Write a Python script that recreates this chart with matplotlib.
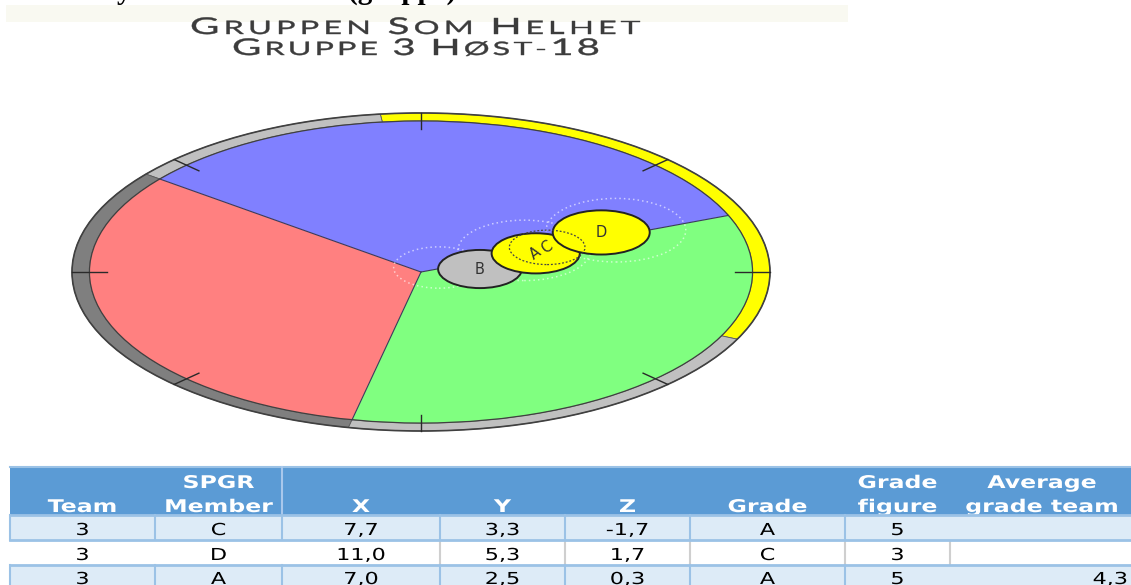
import numpy as np
import matplotlib
matplotlib.use("Agg")
from matplotlib import pyplot as plt
from matplotlib import patches
from matplotlib.font_manager import FontProperties
from matplotlib.textpath import TextPath, text_to_path
from matplotlib.transforms import Affine2D

# --- data -------------------------------------------------------------------
header_cut = "Analyse av hele teamet (gruppe)"
title_lines = ["GRUPPEN SOM HELHET", "GRUPPE 3 HØST-18"]

# field sectors (degrees) and their colours
sector_start = [22, 142, 258]
sector_end = [142, 258, 382]
sector_colors = ["#8080ff", "#ff8080", "#80ff80"]

# outer ring segments
ring_start = [-25, 96.7, 142, 258]
ring_end = [96.7, 142, 258, 335]
ring_colors = ["#ffff00", "#c0c0c0", "#7f7f7f", "#c0c0c0"]

# members in the table
team = [3, 3, 3]
members = ["C", "D", "A"]
x_vals = [7.7, 11.0, 7.0]
y_vals = [3.3, 5.3, 2.5]
z_vals = [-1.7, 1.7, 0.3]
grades = ["A", "C", "A"]
grade_fig = [5, 3, 5]
avg_grade = 4.3

# member B only shown in the diagram
extra_member = "B"
extra_x, extra_y, extra_z = 3.6, 0.4, -0.4

# faint dotted "shadow" circles (X, Y, radius)
shadow_x = [1.1, 6.3, 11.9]
shadow_y = [0.6, 2.9, 5.6]
shadow_r = [0.13, 0.19, 0.2]

table_header_1 = ["", "SPGR", "", "", "", "", "Grade", "Average"]
table_header_2 = ["Team", "Member", "X", "Y", "Z", "Grade", "figure", "grade team"]

# --- helpers ----------------------------------------------------------------
FIELD = 21.3          # value that maps to the rim of the field
CX, CY, RX, RY = 421, 272, 349, 159


def put_text(ax, x, y, s, size, sx=1.0, ha="center", color="black",
             weight="normal", family="DejaVu Sans"):
    prop = FontProperties(family=family, weight=weight, size=size)
    w, _, _ = text_to_path.get_text_width_height_descent(s, prop, ismath=False)
    w *= sx
    x0 = {"center": x - w / 2, "left": x, "right": x - w}[ha]
    path = TextPath((0, 0), s, size=size, prop=prop)
    tr = Affine2D().scale(sx, -1).translate(x0, y) + ax.transData
    ax.add_patch(patches.PathPatch(path, transform=tr, fc=color, lw=0))


def small_caps(ax, xc, y, line, big, small, width, color, sx=1.5, family="Lato"):
    prop_b = FontProperties(family=family, size=big)
    prop_s = FontProperties(family=family, size=small)
    chars = []
    prev = " "
    for ch in line:
        first = prev == " " or ch.isdigit()
        prop = prop_b if first else prop_s
        size = big if first else small
        w, _, _ = text_to_path.get_text_width_height_descent(ch, prop, ismath=False)
        chars.append((ch, size, prop, w * sx))
        prev = ch
    total = sum(c[3] for c in chars)
    track = (width - total) / (len(chars) - 1)
    x = xc - width / 2
    for ch, size, prop, w in chars:
        if ch != " ":
            path = TextPath((0, 0), ch, size=size, prop=prop)
            tr = Affine2D().scale(sx, -1).translate(x, y) + ax.transData
            ax.add_patch(patches.PathPatch(path, transform=tr, fc=color,
                                           ec=color, lw=0.3))
        x += w + track


def radius(z):
    return 0.1236 + 0.009 * z


# --- figure -----------------------------------------------------------------
fig = plt.figure(figsize=(11.31, 5.85), dpi=100)
ax = fig.add_axes([0, 0, 1, 1])
ax.set_xlim(0, 1131)
ax.set_ylim(585, 0)
ax.axis("off")

# cropped heading and faint band
ax.text(57, -1, header_cut, fontsize=21, family="Liberation Serif",
        weight="bold", ha="left", va="baseline", clip_on=False)
ax.add_patch(patches.Rectangle((6, 5), 842, 17, fc="#f9f9f1", ec="none"))

small_caps(ax, 415, 34, title_lines[0], 23, 18.5, 450, "#3c3c3c", sx=1.75)
small_caps(ax, 416, 55, title_lines[1], 23, 18.5, 368, "#3c3c3c", sx=1.75)

# diagram drawn in unit-circle coordinates, squashed into an ellipse
T = Affine2D().scale(RX, -RY).translate(CX, CY) + ax.transData

for t1, t2, c in zip(ring_start, ring_end, ring_colors):
    ax.add_patch(patches.Wedge((0, 0), 1.0, t1, t2, width=0.05, fc=c,
                               ec="#5a5a5a", lw=0.6, transform=T))
for t1, t2, c in zip(sector_start, sector_end, sector_colors):
    ax.add_patch(patches.Wedge((0, 0), 0.95, t1, t2, fc=c, ec="none", transform=T))
for a in sector_start:
    r = np.deg2rad(a)
    ax.plot([0, 0.95 * np.cos(r)], [0, 0.95 * np.sin(r)], color="#3a3a5a",
            lw=0.8, transform=T)
ax.add_patch(patches.Circle((0, 0), 1.0, fill=False, ec="#404040", lw=1.2, transform=T))
ax.add_patch(patches.Circle((0, 0), 0.95, fill=False, ec="#404040", lw=0.9, transform=T))

for a in np.arange(0, 360, 45):
    r = np.deg2rad(a)
    ax.plot([0.9 * np.cos(r), np.cos(r)], [0.9 * np.sin(r), np.sin(r)],
            color="#2a2a2a", lw=1.0, transform=T)

for sx_, sy_, sr in zip(shadow_x, shadow_y, shadow_r):
    ax.add_patch(patches.Circle((sx_ / FIELD, sy_ / FIELD), sr, fill=False,
                                ec="white", ls=(0, (1, 2)), lw=1.1, alpha=0.6,
                                transform=T, zorder=3))

# members
bx, by = extra_x / FIELD, extra_y / FIELD
ax.add_patch(patches.Circle((bx, by), radius(extra_z), fc="#c0c0c0", ec="#222222",
                            lw=1.4, transform=T, zorder=4))
ax.text(bx, by, extra_member, ha="center", va="center", fontsize=10.5,
        color="#333333", transform=T, zorder=6)

pos = {m: (x / FIELD, y / FIELD, radius(z)) for m, x, y, z in
       zip(members, x_vals, y_vals, z_vals)}
for m in ["A", "D"]:
    px, py, pr = pos[m]
    ax.add_patch(patches.Circle((px, py), pr, fc="#ffff00", ec="#222222",
                                lw=1.4, transform=T, zorder=4))
px, py, pr = pos["C"]
ax.add_patch(patches.Circle((px, py), pr, fill=False, ec="#444444",
                            ls=(0, (1.5, 1.5)), lw=0.9, transform=T, zorder=5))
for m in members:
    px, py, pr = pos[m]
    rot = 0 if m == "D" else 35
    ax.text(px, py, m, ha="center", va="center", fontsize=10.5, rotation=rot,
            color="#333333", transform=T, zorder=6)

# --- table ------------------------------------------------------------------
col_edges = [10, 155, 282, 440, 565, 690, 845, 950, 1140]
row_edges = [467, 515, 540, 565, 592]
head_blue = "#5b9bd5"
light = "#ddebf7"
line_blue = "#9bc2e6"

ax.add_patch(patches.Rectangle((col_edges[0], row_edges[0]), col_edges[-1] - col_edges[0],
                               row_edges[1] - row_edges[0], fc=head_blue, ec="none"))
ax.plot([col_edges[0], col_edges[-1]], [row_edges[0], row_edges[0]], color=line_blue, lw=1.5)
ax.plot([col_edges[2], col_edges[2]], [row_edges[0], row_edges[1]], color="#a9c8ec", lw=1.5)

for i in range(len(members)):
    top, bot = row_edges[i + 1], row_edges[i + 2]
    fc = light if i % 2 == 0 else "white"
    ax.add_patch(patches.Rectangle((col_edges[0], top), col_edges[-1] - col_edges[0],
                                   bot - top, fc=fc, ec="none"))
for i in range(len(members)):
    top, bot = row_edges[i + 1], row_edges[i + 2]
    if i % 2 == 0:
        for xe in col_edges[:7]:
            ax.plot([xe, xe], [top, bot], color=line_blue, lw=1.5)
    else:
        for xe in col_edges[3:8]:
            ax.plot([xe, xe], [top + 1, bot - 1], color="#cfcfcf", lw=1.5)
for ye in row_edges[1:4]:
    ax.plot([col_edges[0], col_edges[-1]], [ye, ye], color=line_blue, lw=2)

centers = [(a + b) / 2 for a, b in zip(col_edges[:-1], col_edges[1:])]
centers[-1] = 1042
SX = 1.35
for c, h1, h2 in zip(centers, table_header_1, table_header_2):
    if h1:
        put_text(ax, c, 488, h1, 17.5, sx=SX, color="white", weight="bold")
    put_text(ax, c, 512, h2, 17.5, sx=SX, color="white", weight="bold")


def fmt(v):
    return f"{v:.1f}".replace(".", ",")


baselines = [535, 560, 584]
for i in range(len(members)):
    row = [str(team[i]), members[i], fmt(x_vals[i]), fmt(y_vals[i]), fmt(z_vals[i]),
           grades[i], str(grade_fig[i])]
    for c, s in zip(centers, row):
        put_text(ax, c, baselines[i], s, 16.5, sx=SX)
put_text(ax, 1128, baselines[-1], fmt(avg_grade), 16.5, sx=SX, ha="right")

fig.savefig("out.png", dpi=100)
